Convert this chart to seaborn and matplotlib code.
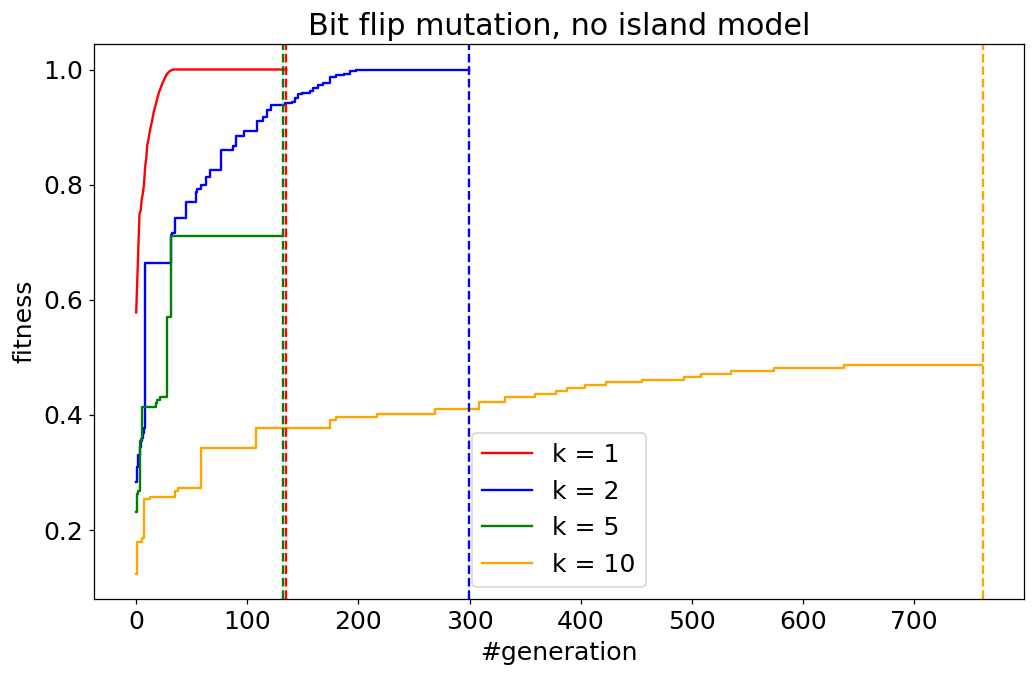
import numpy as np
import pandas as pd
import matplotlib
matplotlib.use("Agg")
import matplotlib.pyplot as plt
import seaborn as sns

# ---- data (generation at which fitness changes, fitness value) ----
red_gen = [0, 1, 2, 3, 4, 5, 6, 7, 8, 9, 10, 11, 12, 13, 14, 15, 16, 17, 18, 19,
           20, 21, 22, 23, 24, 25, 26, 27, 28, 29, 30, 31, 32, 33, 135]
red_fit = [0.578, 0.635, 0.695, 0.750, 0.755, 0.775, 0.785, 0.800, 0.830, 0.845,
           0.870, 0.878, 0.890, 0.900, 0.908, 0.918, 0.928, 0.935, 0.942, 0.950,
           0.957, 0.963, 0.968, 0.973, 0.978, 0.982, 0.986, 0.990, 0.993, 0.995,
           0.997, 0.998, 0.999, 1.000, 1.000]

blue_gen = [0, 1, 2, 3, 4, 5, 6, 7, 8, 31, 32, 35, 45, 54, 55, 58, 63, 66, 76, 87,
            90, 97, 109, 114, 118, 121, 134, 140, 143, 146, 149, 156, 159, 164,
            168, 174, 180, 187, 192, 198, 299]
blue_fit = [0.283, 0.309, 0.330, 0.345, 0.355, 0.360, 0.368, 0.378, 0.664, 0.712,
            0.716, 0.742, 0.770, 0.787, 0.792, 0.800, 0.813, 0.825, 0.861, 0.867,
            0.884, 0.894, 0.910, 0.918, 0.929, 0.938, 0.941, 0.944, 0.950, 0.957,
            0.960, 0.963, 0.967, 0.973, 0.977, 0.987, 0.990, 0.993, 0.997, 1.000,
            1.000]

green_gen = [0, 1, 2, 3, 4, 5, 18, 19, 21, 28, 31, 132]
green_fit = [0.231, 0.262, 0.268, 0.355, 0.358, 0.413, 0.420, 0.425, 0.431, 0.570,
             0.710, 0.710]

orange_gen = [0, 1, 5, 7, 12, 35, 38, 58, 108, 174, 180, 217, 269, 308, 332, 359,
              378, 388, 404, 423, 455, 493, 508, 535, 574, 637, 761]
orange_fit = [0.1235, 0.180, 0.186, 0.254, 0.258, 0.268, 0.273, 0.343, 0.377, 0.391,
              0.397, 0.402, 0.411, 0.422, 0.431, 0.4365, 0.4417, 0.447, 0.452,
              0.4567, 0.461, 0.4666, 0.4713, 0.477, 0.4817, 0.487, 0.487]

labels = ["k = 1", "k = 2", "k = 5", "k = 10"]
colors = ["red", "blue", "green", "orange"]
draw_styles = ["default", "steps-post", "steps-post", "steps-post"]
end_gens = [135, 299, 132, 762]

# ---- plot ----
DPI = 113
plt.rcParams["font.size"] = 16
fig = plt.figure(figsize=(1036 / DPI, 677 / DPI), dpi=DPI)
ax = fig.add_axes([0.0907, 0.1148, 0.8977, 0.8198])

all_series = [(red_gen, red_fit), (blue_gen, blue_fit),
              (green_gen, green_fit), (orange_gen, orange_fit)]
for (g, f), lab, col, ds in zip(all_series, labels, colors, draw_styles):
    df = pd.DataFrame({"generation": g, "fitness": f})
    sns.lineplot(data=df, x="generation", y="fitness", color=col, label=lab,
                 drawstyle=ds, estimator=None, ax=ax, linewidth=1.5)

for eg, col in zip(end_gens, colors):
    ax.axvline(eg, color=col, linestyle="--", linewidth=1.5)

ax.set_xlim(-38, 798.8)
ax.set_title("Bit flip mutation, no island model")
ax.set_xlabel("#generation")
ax.set_ylabel("fitness")
ax.legend(loc="lower center")

fig.savefig("out.png", dpi=DPI)
